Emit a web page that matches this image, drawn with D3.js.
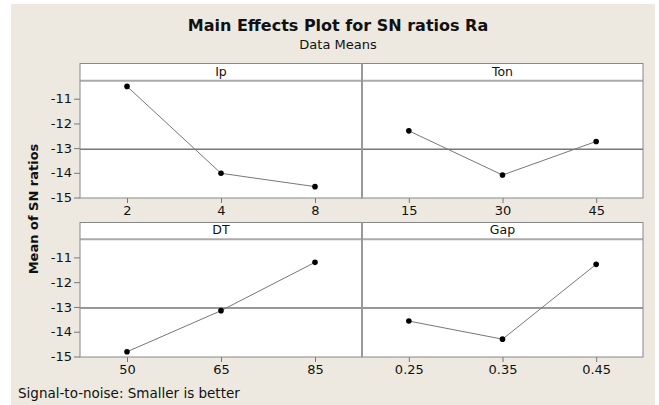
<!DOCTYPE html>
<html>
<head>
<meta charset="utf-8">
<script src="https://cdn.jsdelivr.net/npm/d3@7"></script>
<style>
  body { margin: 0; background: #fff; }
  svg { display: block; }
  text { font-family: "DejaVu Sans", Verdana, sans-serif; fill: #111; }
</style>
</head>
<body>
<svg id="chart"></svg>
<script>
// factors and their levels
const factorNames = ["Ip", "Ton", "DT", "Gap"];
const factorLevels = [
  ["2", "4", "8"],
  ["15", "30", "45"],
  ["50", "65", "85"],
  ["0.25", "0.35", "0.45"]
];
// mean SN ratio at each level
const snMeans = [
  [-10.50, -14.02, -14.56],
  [-12.30, -14.09, -12.73],
  [-14.81, -13.15, -11.20],
  [-13.57, -14.30, -11.28]
];
const yTicks = [-15, -14, -13, -12, -11];
const grandMean = d3.mean(snMeans.flat());

const width = 659, height = 405;

const svg = d3.select("#chart")
  .attr("width", width)
  .attr("height", height);

// beige background
svg.append("rect")
  .attr("x", 11).attr("y", 4)
  .attr("width", 644).attr("height", height - 4)
  .attr("fill", "#ede9e0");

// title
svg.append("text")
  .attr("x", 338).attr("y", 31)
  .attr("text-anchor", "middle")
  .style("font-size", "16px")
  .style("font-weight", "bold")
  .text("Main Effects Plot for SN ratios Ra");

svg.append("text")
  .attr("x", 338).attr("y", 49)
  .attr("text-anchor", "middle")
  .style("font-size", "13px")
  .text("Data Means");

// panel grid
const colX = [80, 362, 643];
const rows = [
  { top: 63.5, strip: 80.7, bottom: 198 },
  { top: 222.5, strip: 239.3, bottom: 357 }
];

const yDomain = [-15.02, -10.27];

factorNames.forEach((name, k) => {
  const r = Math.floor(k / 2), c = k % 2;
  const row = rows[r];
  const x0 = colX[c], x1 = colX[c + 1];

  const x = d3.scalePoint()
    .domain(factorLevels[k])
    .range([x0, x1])
    .padding(0.5);

  const y = d3.scaleLinear()
    .domain(yDomain)
    .range([row.bottom, row.strip]);

  const g = svg.append("g");

  // panel background
  g.append("rect")
    .attr("x", x0).attr("y", row.top)
    .attr("width", x1 - x0).attr("height", row.bottom - row.top)
    .attr("fill", "#fff");

  // strip label
  g.append("text")
    .attr("x", (x0 + x1) / 2)
    .attr("y", (row.top + row.strip) / 2 + 3.5)
    .attr("text-anchor", "middle")
    .style("font-size", "12.5px")
    .text(name);

  // strip line
  g.append("line")
    .attr("x1", x0).attr("x2", x1)
    .attr("y1", row.strip).attr("y2", row.strip)
    .attr("stroke", "#aaa")
    .attr("stroke-width", 2);

  // reference line at overall mean
  g.append("line")
    .attr("x1", x0).attr("x2", x1)
    .attr("y1", y(grandMean)).attr("y2", y(grandMean))
    .attr("stroke", "#333")
    .attr("stroke-width", 1);

  // x axis
  const xAxis = g.append("g")
    .attr("transform", `translate(0,${row.bottom})`)
    .call(d3.axisBottom(x).tickSize(5).tickSizeOuter(0));
  xAxis.select(".domain").remove();
  xAxis.selectAll(".tick line").attr("stroke", "#777");
  xAxis.selectAll(".tick text")
    .attr("y", 8)
    .style("font-size", "13px")
    .style("font-family", "DejaVu Sans, Verdana, sans-serif")
    .attr("fill", "#111");

  // y axis only on left column
  if (c === 0) {
    const yAxis = g.append("g")
      .attr("transform", `translate(${x0},0)`)
      .call(d3.axisLeft(y).tickValues(yTicks).tickSize(6).tickSizeOuter(0)
        .tickFormat(d => String(d)));
    yAxis.select(".domain").remove();
    yAxis.selectAll(".tick line").attr("stroke", "#777");
    yAxis.selectAll(".tick text")
      .attr("x", -8)
      .style("font-size", "13px")
      .style("font-family", "DejaVu Sans, Verdana, sans-serif")
      .attr("fill", "#111");
  }

  // data line
  const pts = factorLevels[k].map((lv, i) => [x(lv), y(snMeans[k][i])]);
  g.append("path")
    .attr("d", d3.line()(pts))
    .attr("fill", "none")
    .attr("stroke", "#777")
    .attr("stroke-width", 1);

  g.selectAll("circle")
    .data(pts)
    .enter()
    .append("circle")
    .attr("cx", d => d[0])
    .attr("cy", d => d[1])
    .attr("r", 2.8)
    .attr("fill", "#000");

  // panel border
  g.append("rect")
    .attr("x", x0).attr("y", row.top)
    .attr("width", x1 - x0).attr("height", row.bottom - row.top)
    .attr("fill", "none")
    .attr("stroke", "#888")
    .attr("stroke-width", 1);
});

// thicker divider between columns
rows.forEach(row => {
  svg.append("line")
    .attr("x1", colX[1]).attr("x2", colX[1])
    .attr("y1", row.top).attr("y2", row.bottom)
    .attr("stroke", "#999")
    .attr("stroke-width", 2);
});

// y axis title
svg.append("text")
  .attr("transform", "translate(38,209) rotate(-90)")
  .attr("text-anchor", "middle")
  .style("font-size", "13px")
  .style("font-weight", "bold")
  .text("Mean of SN ratios");

// footnote
svg.append("text")
  .attr("x", 18).attr("y", 398)
  .style("font-size", "13.5px")
  .text("Signal-to-noise: Smaller is better");
</script>
</body>
</html>
